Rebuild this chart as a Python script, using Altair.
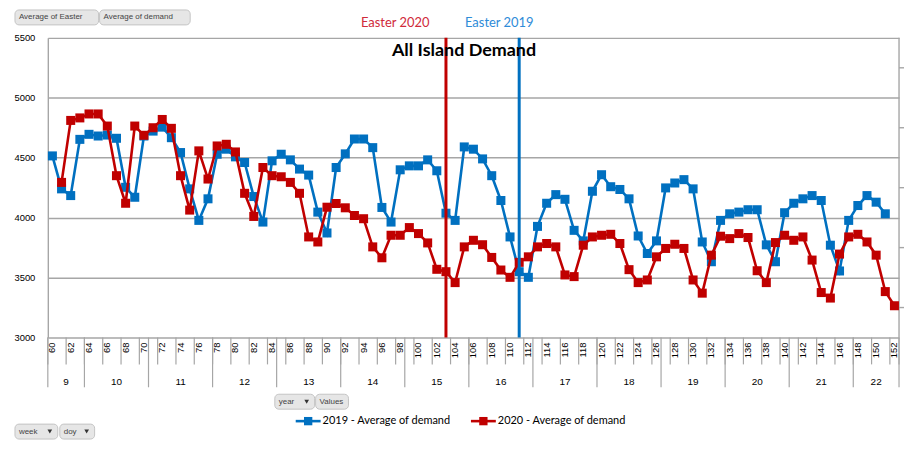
import altair as alt
import pandas as pd

# ---------------- data ----------------
doy_2019 = list(range(60, 152))
demand_2019 = [4515, 4240, 4184, 4653, 4695, 4681, 4689, 4662, 4253, 4170,
               4681, 4722, 4755, 4667, 4543, 4240, 3977, 4157, 4529, 4571,
               4507, 4460, 4176, 3963, 4474, 4529, 4482, 4405, 4355, 4046,
               3872, 4418, 4532, 4656, 4656, 4584, 4085, 3963, 4399, 4432,
               4432, 4482, 4391, 4037, 3977, 4590, 4571, 4490, 4350, 4143,
               3839, 3549, 3502, 3927, 4120, 4192, 4153, 3894, 3806, 4220,
               4358, 4258, 4235, 4157, 3847, 3701, 3806, 4248, 4289, 4317,
               4240, 3797, 3632, 3977, 4032, 4046, 4066, 4066, 3773, 3632,
               4041, 4120, 4157, 4184, 4143, 3770, 3555, 3977, 4101, 4184,
               4129, 4032]
doy_2020 = list(range(61, 153))
demand_2020 = [4294, 4811, 4832, 4865, 4865, 4764, 4350, 4120, 4764, 4687,
               4750, 4819, 4745, 4350, 4063, 4557, 4322, 4598, 4612, 4548,
               4203, 4010, 4418, 4350, 4341, 4294, 4203, 3839, 3797, 4087,
               4118, 4082, 4018, 3991, 3756, 3665, 3853, 3853, 3917, 3867,
               3789, 3569, 3549, 3458, 3756, 3811, 3774, 3668, 3563, 3502,
               3627, 3673, 3756, 3784, 3756, 3522, 3508, 3770, 3839, 3853,
               3861, 3784, 3566, 3458, 3480, 3673, 3743, 3778, 3743, 3480,
               3370, 3687, 3845, 3825, 3867, 3834, 3557, 3458, 3792, 3853,
               3811, 3839, 3646, 3375, 3329, 3696, 3839, 3861, 3797, 3687,
               3383, 3265]
series_names = ["2019 - Average of demand", "2020 - Average of demand"]
series_colors = ["#0070C0", "#C00000"]

easter_doy = [103, 111]
easter_label = ["Easter 2020", "Easter 2019"]
easter_line_color = ["#C00000", "#0070C0"]
easter_text_color = ["#D02A3A", "#2E8BD8"]
easter_dx = [-51, -20]

weeks = list(range(9, 23))
week_start = [59.5, 63.5, 70.5, 77.5, 84.5, 91.5, 98.5, 105.5, 112.5,
              119.5, 126.5, 133.5, 140.5, 147.5]
week_end = week_start[1:] + [152.5]
doy_labels = list(range(60, 153, 2))
doy_separators = [59.5 + 2 * k for k in range(47)] + [152.5]
y_ticks = [3000, 3500, 4000, 4500, 5000, 5500]
y2_ticks = [3250, 3750, 4250, 4750, 5250]

W, H = 855, 301
GRID = "#A6A6A6"
FONT = "Liberation Sans"
TFONT = "Lato"

# ---------------- encodings ----------------
X = alt.X("doy:Q", scale=alt.Scale(domain=[59.5, 152.5], nice=False, zero=False), axis=None)
Y = alt.Y("demand:Q",
          scale=alt.Scale(domain=[3000, 5500], nice=False, zero=False),
          axis=alt.Axis(values=y_ticks, format="d", grid=True, gridColor=GRID, gridWidth=1.4,
                        domain=True, domainColor=GRID, domainWidth=1.4, ticks=False,
                        labelPadding=13, labelFont=FONT, labelFontSize=9.5,
                        labelColor="#000000", title=None))

df19 = pd.DataFrame({"doy": doy_2019, "demand": demand_2019})
df20 = pd.DataFrame({"doy": doy_2020, "demand": demand_2020})


def series_layers(df, color):
    line = alt.Chart(df).mark_line(color=color, strokeWidth=2.6).encode(x=X, y=Y)
    pts = alt.Chart(df).mark_point(shape="square", filled=True, size=82,
                                   color=color, opacity=1).encode(x=X, y=Y)
    return [line, pts]


layers = []

# right secondary axis: border + ticks
layers.append(alt.Chart(pd.DataFrame({"a": [0]})).mark_rule(color=GRID, strokeWidth=1.4)
              .encode(x=alt.value(W), y=alt.value(0), y2=alt.value(H)))
layers.append(alt.Chart(pd.DataFrame({"demand": y2_ticks})).mark_rule(color=GRID, strokeWidth=1.4)
              .encode(y=Y, x=alt.value(W), x2=alt.value(W + 5)))

layers += series_layers(df19, series_colors[0])
layers += series_layers(df20, series_colors[1])

# Easter lines and labels
edf = pd.DataFrame({"doy": easter_doy, "label": easter_label})
for i in range(len(easter_doy)):
    one = edf.iloc[[i]]
    layers.append(alt.Chart(one).mark_rule(color=easter_line_color[i], strokeWidth=3)
                  .encode(x=X))
    layers.append(alt.Chart(one).mark_text(color=easter_text_color[i], font=TFONT,
                                           fontSize=13, dx=easter_dx[i])
                  .encode(x=X, y=alt.value(-15), text="label:N"))

# chart title inside plot
layers.append(alt.Chart(pd.DataFrame({"t": ["All Island Demand"]}))
              .mark_text(font=TFONT, fontSize=18, fontWeight="bold", color="#000000")
              .encode(x=alt.value(418), y=alt.value(13), text="t:N"))

# multi-level category axis: doy labels + separators, week labels + separators
layers.append(alt.Chart(pd.DataFrame({"doy": doy_separators})).mark_rule(color=GRID, strokeWidth=1.2)
              .encode(x=X, y=alt.value(H), y2=alt.value(H + 27)))
wdf = pd.DataFrame({"week": weeks, "start": week_start, "end": week_end})
wdf["mid"] = (wdf["start"] + wdf["end"]) / 2
layers.append(alt.Chart(pd.DataFrame({"doy": week_start + [152.5]})).mark_rule(color=GRID, strokeWidth=1.2)
              .encode(x=X, y=alt.value(H), y2=alt.value(H + 50)))
layers.append(alt.Chart(pd.DataFrame({"doy": doy_labels, "lab": [str(d) for d in doy_labels]}))
              .mark_text(angle=270, align="right", baseline="middle", font=FONT,
                         fontSize=9.5, color="#000000")
              .encode(x=X, y=alt.value(H + 5), text="lab:N"))
layers.append(alt.Chart(wdf.rename(columns={"mid": "doy"}))
              .mark_text(font=FONT, fontSize=10, color="#000000")
              .encode(x=X, y=alt.value(H + 45), text="week:N"))

# legend (manual, Excel style)
leg_x = [249, 425]
for i in range(2):
    d = pd.DataFrame({"name": [series_names[i]]})
    layers.append(alt.Chart(d).mark_rule(color=series_colors[i], strokeWidth=2.6)
                  .encode(x=alt.value(leg_x[i]), x2=alt.value(leg_x[i] + 25),
                          y=alt.value(385)))
    layers.append(alt.Chart(d).mark_point(shape="square", filled=True, size=70,
                                          color=series_colors[i], opacity=1)
                  .encode(x=alt.value(leg_x[i] + 12.5), y=alt.value(385)))
    layers.append(alt.Chart(d).mark_text(align="left", font=TFONT, fontSize=11,
                                         color="#000000")
                  .encode(x=alt.value(leg_x[i] + 27), y=alt.value(385), text="name:N"))

# pivot field buttons
btn_text = ["Average of Easter", "Average of demand", "year", "Values", "week", "doy"]
btn_x1 = [-33, 52, 228, 269, -33, 12]
btn_x2 = [51, 143, 268, 302, 10, 47]
btn_y1 = [-28, -28, 358, 358, 388, 388]
btn_arrow = [False, False, True, False, True, True]
for i in range(len(btn_text)):
    d = pd.DataFrame({"t": [btn_text[i]]})
    layers.append(alt.Chart(d).mark_rect(fill="#E6E6E6", stroke="#C4C4C4", strokeWidth=1,
                                         cornerRadius=4)
                  .encode(x=alt.value(btn_x1[i]), x2=alt.value(btn_x2[i]),
                          y=alt.value(btn_y1[i]), y2=alt.value(btn_y1[i] + 15)))
    layers.append(alt.Chart(d).mark_text(align="left", font=FONT, fontSize=8, color="#444444")
                  .encode(x=alt.value(btn_x1[i] + 4), y=alt.value(btn_y1[i] + 7.5), text="t:N"))
    if btn_arrow[i]:
        layers.append(alt.Chart(d).mark_point(shape="triangle-down", filled=True, size=22,
                                              color="#333333", opacity=1)
                      .encode(x=alt.value(btn_x2[i] - 8), y=alt.value(btn_y1[i] + 7.5)))

chart = alt.layer(*layers).properties(
    width=W, height=H,
    padding={"left": 40, "top": 29, "right": 6, "bottom": 106},
    autosize=alt.AutoSizeParams(type="none"),
    background="#FFFFFF",
).configure_view(stroke=None)

chart.save("out.html", embed_options={"renderer": "svg", "actions": False})
